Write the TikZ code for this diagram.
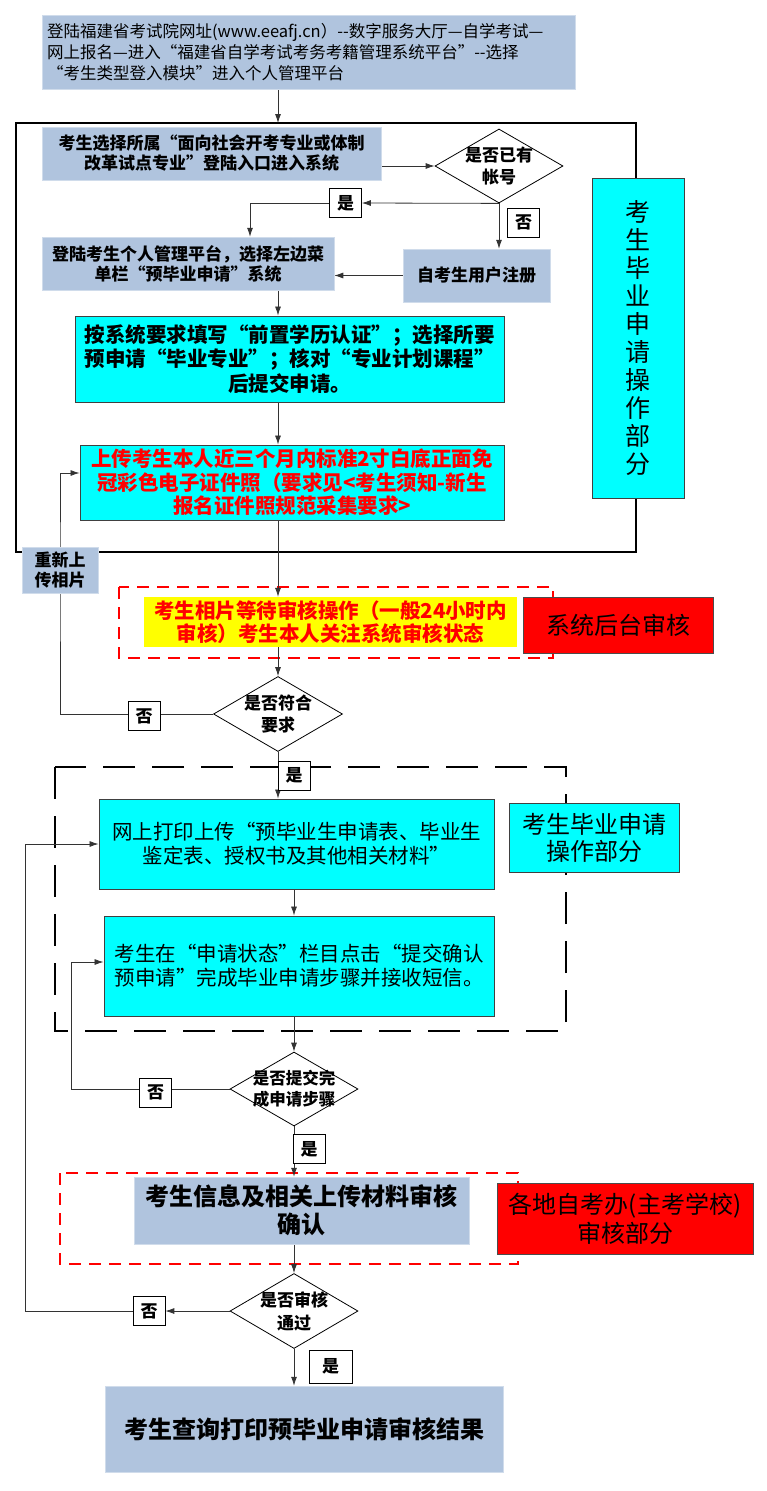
\documentclass[tikz,border=0pt]{standalone}
\usepackage{fontspec}
\setmainfont{Noto Sans CJK SC}
\usetikzlibrary{shapes.geometric,arrows.meta,backgrounds}
\definecolor{gb}{RGB}{176,196,222}
\definecolor{cy}{RGB}{0,255,255}
\definecolor{yl}{RGB}{255,255,0}
\definecolor{rd}{RGB}{255,0,0}
\newcommand{\fs}[2]{\fontsize{#1}{#2}\selectfont}
\begin{document}
\begin{tikzpicture}[x=1pt,y=-1pt,
  box/.style={rectangle, inner sep=2pt, align=center},
  gbox/.style={box, fill=gb, draw=gb!60!white, line width=0.5pt},
  cbox/.style={box, fill=cy, draw=black!75, line width=0.9pt},
  rbox/.style={box, fill=rd, draw=black!70, line width=1pt},
  lbl/.style={draw=black, fill=white, line width=0.7pt, minimum width=32, minimum height=29, inner sep=0, font=\fs{17}{17}\bfseries},
  dia/.style={diamond, draw=black, line width=0.8pt, fill=white, inner sep=0, minimum width=128, minimum height=74},
  dtxt/.style={align=center, inner sep=0, font=\fs{17}{22}\bfseries},
  conn/.style={draw=black!80, line width=0.8pt},
  arr/.style={conn, -{Latex[length=9pt,width=6pt]}},
]
\useasboundingbox (0,0) rectangle (766,1491);

% ---------- nodes ----------
\node[gbox, minimum height=74, text width=523, inner xsep=5pt, align=left, font=\fs{16.5}{21}] (T) at (308.5,52)
 {登陆福建省考试院网址(www.eeafj.cn）-{}-数字服务大厅—自学考试—\\网上报名—进入“福建省自学考试考务考籍管理系统平台”-{}-选择\\“考生类型登入模块”进入个人管理平台};

\node[gbox, minimum width=339, minimum height=53, font=\fs{17}{20}\bfseries] (A) at (211.5,153.5)
 {考生选择所属“面向社会开考专业或体制\\改革试点专业”登陆入口进入系统};
\node[dia] (D1) at (499,166) {};
\node[dtxt] (D1t) at (D1) {是否已有\\帐号};

\node[gbox, minimum width=292, minimum height=53, font=\fs{17}{20}\bfseries] (B) at (188,263.5)
 {登陆考生个人管理平台，选择左边菜\\单栏“预毕业申请”系统};
\node[gbox, minimum width=147, minimum height=53, font=\fs{17}{20}\bfseries] (C) at (476.5,275.5) {自考生用户注册};

\node[cbox, minimum width=92, minimum height=320, font=\fs{25}{28}] (V1) at (638,338)
 {考\\生\\毕\\业\\申\\请\\操\\作\\部\\分};

\node[cbox, minimum width=429, minimum height=86, font=\fs{20.5}{24.5}\bfseries] (D) at (289.5,359)
 {按系统要求填写“前置学历认证”；选择所要\\预申请“毕业专业”；核对“专业计划课程”\\后提交申请。};
\node[cbox, minimum width=424, minimum height=75, text=rd, font=\fs{20.5}{23.5}\bfseries] (E) at (292,482.5)
 {上传考生本人近三个月内标准2寸白底正面免\\冠彩色电子证件照（要求见<考生须知-新生\\报名证件照规范采集要求>};

\node[gbox, minimum width=76, minimum height=46, font=\fs{17}{20}\bfseries] (R) at (60,570) {重新上\\传相片};

\node[box, fill=yl, minimum width=373, minimum height=50, text=rd, font=\fs{20.5}{23}\bfseries] (F) at (330.5,622)
 {考生相片等待审核操作（一般24小时内\\审核）考生本人关注系统审核状态};
\node[rbox, minimum width=190, minimum height=56, font=\fs{24}{28}] (S1) at (618,625) {系统后台审核};

\node[dia, minimum width=129, minimum height=75] (D2) at (278,714) {};
\node[dtxt] (D2t) at (D2) {是否符合\\要求};

\node[cbox, minimum width=395, minimum height=90, font=\fs{20.5}{24}] (G) at (296.5,844)
 {网上打印上传“预毕业生申请表、毕业生\\鉴定表、授权书及其他相关材料”};
\node[cbox, minimum width=170, minimum height=69, font=\fs{24}{27}] (V2) at (594,837.5) {考生毕业申请\\操作部分};
\node[cbox, minimum width=390, minimum height=100, font=\fs{20.5}{24}, align=left] (H) at (299,966)
 {考生在“申请状态”栏目点击“提交确认\\预申请”完成毕业申请步骤并接收短信。};

\node[dia] (D3) at (294,1089) {};
\node[dtxt, font=\fs{16.5}{21}\bfseries] (D3t) at (D3) {是否提交完\\成申请步骤};

\node[gbox, minimum width=335, minimum height=67, font=\fs{24}{28}\bfseries] (I) at (301.5,1210.5)
 {考生信息及相关上传材料审核\\确认};
\node[rbox, minimum width=256, minimum height=71, font=\fs{24}{29}] (S2) at (625,1218.5) {各地自考办(主考学校)\\审核部分};

\node[dia, minimum height=75] (D4) at (294,1311) {};
\node[dtxt, font=\fs{17}{23}\bfseries] (D4t) at (D4) {是否审核\\通过};

\node[gbox, minimum width=398, minimum height=86, font=\fs{24}{28}\bfseries] (J) at (304,1429) {考生查询打印预毕业申请审核结果};

% labels
\node[lbl] (Y1) at (345.5,203) {是};
\node[lbl] (N1) at (523.5,222.5) {否};
\node[lbl] (N2) at (144,716) {否};
\node[lbl] (Y2) at (294,775.5) {是};
\node[lbl] (N3) at (155.5,1092.5) {否};
\node[lbl] (Y3) at (309,1149) {是};
\node[lbl] (N4) at (149,1311) {否};
\node[lbl, minimum width=43, minimum height=33] (Y4) at (330.5,1366.5) {是};

\coordinate (ftop) at (278,123);
\coordinate (yl) at (250,203);
\coordinate (k3) at (71,1089);
\coordinate (k4) at (25,1311);

% ---------- background: frames and connectors ----------
\begin{scope}[on background layer]
  \draw[line width=2pt, black] (16,123) rectangle (636,552);
  \draw[rd, line width=1.5pt, dash pattern=on 12pt off 8pt] (119,587) rectangle (553,658);
  \draw[black, line width=1.6pt, dash pattern=on 32pt off 17pt] (55,767) rectangle (566,1031);
  \draw[rd, line width=1.5pt, dash pattern=on 12pt off 8pt] (60,1173) rectangle (518,1264);

  \draw[arr] (T.south -| ftop) -- (ftop);
  \draw[arr] (A.east |- D1.west) -- (D1.west);
  \draw[arr] (D1.south) -- (Y1.east);
  \draw[arr] (Y1.west) -| (B.north -| yl);
  \draw[arr] (D1.south) -- (C.north -| D1.south);
  \draw[arr] (C.west) -- (B.east |- C.west);
  \draw[arr] (B.south -| ftop) -- (D.north -| ftop);
  \draw[arr] (D.south -| ftop) -- (E.north -| ftop);
  \draw[arr] (E.south -| ftop) -- (F.north -| ftop);
  \draw[arr] (F.south -| ftop) -- (D2.north);
  \draw[arr] (D2.west) -| (R.center) |- ([yshift=9.5pt]E.west);
  \draw[arr] (D2.south) -- (G.north -| D2.south);
  \draw[arr] (G.south -| D4) -- (H.north -| D4);
  \draw[arr] (H.south -| D3) -- (D3.north);
  \draw[arr] (D3.west) -- (k3) |- ([yshift=4pt]H.west);
  \draw[arr] (D3.south) -- (I.north -| D3.south);
  \draw[arr] (I.south -| D4) -- (D4.north);
  \draw[arr] (D4.west) -- (N4.east);
  \draw[arr] (N4.west) -- (k4) |- (G.west);
  \draw[arr] (D4.south) -- (J.north -| D4.south);
\end{scope}
\end{tikzpicture}
\end{document}
